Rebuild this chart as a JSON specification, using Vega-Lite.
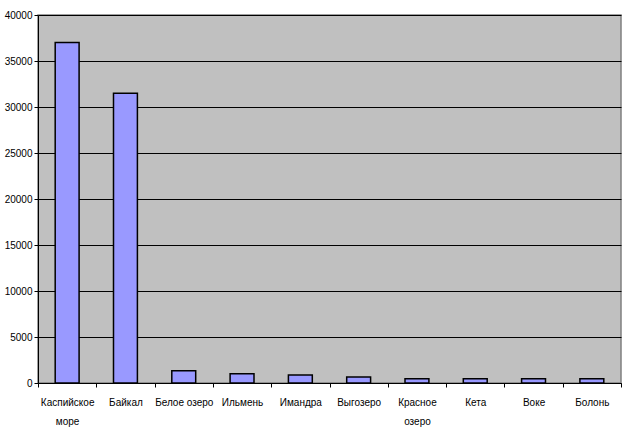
{
  "$schema": "https://vega.github.io/schema/vega-lite/v6.json",
  "width": 583,
  "height": 368,
  "autosize": {"type": "none"},
  "padding": {"left": 38, "top": 15, "right": 1, "bottom": 45},
  "background": "white",
  "config": {
    "view": {"fill": "#C0C0C0", "stroke": "#808080", "strokeWidth": 1.5},
    "font": "Liberation Sans"
  },
  "data": {
    "values": [
      {"lake": "Каспийское море", "area": 37000},
      {"lake": "Байкал", "area": 31500},
      {"lake": "Белое озеро", "area": 1340},
      {"lake": "Ильмень", "area": 1000},
      {"lake": "Имандра", "area": 870},
      {"lake": "Выгозеро", "area": 650},
      {"lake": "Красное озеро", "area": 450},
      {"lake": "Кета", "area": 450},
      {"lake": "Воке", "area": 450},
      {"lake": "Болонь", "area": 450}
    ]
  },
  "mark": {"type": "bar", "color": "#9999FF", "stroke": "black", "strokeWidth": 1.5, "width": {"band": 0.41}},
  "encoding": {
    "x": {
      "field": "lake",
      "type": "nominal",
      "sort": null,
      "scale": {"paddingInner": 0, "paddingOuter": 0},
      "axis": {
        "title": null,
        "labelAngle": 0,
        "tickBand": "extent",
        "domainColor": "black",
        "tickColor": "black",
        "tickSize": 4,
        "labelColor": "black",
        "labelFont": "Liberation Sans",
        "labelFontSize": 10,
        "labelPadding": 10,
        "labelLineHeight": 19,
        "labelBaseline": "top",
        "labelExpr": "datum.label == 'Каспийское море' ? ['Каспийское', 'море'] : datum.label == 'Красное озеро' ? ['Красное', 'озеро'] : datum.label"
      }
    },
    "y": {
      "field": "area",
      "type": "quantitative",
      "scale": {"domain": [0, 40000], "nice": false},
      "axis": {
        "title": null,
        "values": [0, 5000, 10000, 15000, 20000, 25000, 30000, 35000, 40000],
        "format": "d",
        "gridColor": "black",
        "gridWidth": 1,
        "gridOpacity": 1,
        "domainColor": "black",
        "tickColor": "black",
        "tickSize": 4,
        "labelColor": "black",
        "labelFont": "Liberation Sans",
        "labelFontSize": 10,
        "labelPadding": 2
      }
    }
  }
}
